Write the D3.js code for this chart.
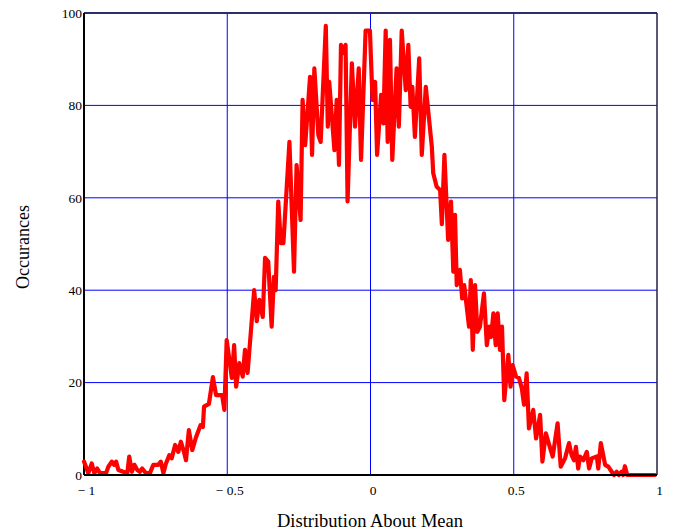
<!DOCTYPE html>
<html>
<head>
<meta charset="utf-8">
<script src="https://cdn.jsdelivr.net/npm/d3@7"></script>
<style>
    body { margin: 0; background: #fff; }
    text { font-family: "Liberation Serif", "DejaVu Serif", serif; fill: #000; }
</style>
</head>
<body>
<div id="chart"></div>
<script>
// Distribution about mean - histogram counts
const binCenters = [
    -1.000, -0.985, -0.973, -0.964, -0.954, -0.944, -0.923, -0.915, -0.903, -0.895,
    -0.888, -0.880, -0.863, -0.849, -0.842, -0.833, -0.824, -0.814, -0.805, -0.797,
    -0.784, -0.770, -0.758, -0.741, -0.732, -0.723, -0.714, -0.702, -0.694, -0.682,
    -0.671, -0.662, -0.651, -0.644, -0.634, -0.622, -0.610, -0.593, -0.585, -0.581,
    -0.564, -0.550, -0.539, -0.518, -0.510, -0.502, -0.484, -0.476, -0.469, -0.458,
    -0.446, -0.438, -0.429, -0.406, -0.397, -0.388, -0.376, -0.368, -0.357, -0.345,
    -0.337, -0.331, -0.322, -0.313, -0.304, -0.283, -0.267, -0.258, -0.244, -0.237,
    -0.228, -0.211, -0.204, -0.196, -0.182, -0.174, -0.156, -0.149, -0.144, -0.126,
    -0.118, -0.110, -0.103, -0.092, -0.087, -0.080, -0.065, -0.054, -0.041, -0.033,
    -0.017, -0.002, 0.007, 0.016, 0.023, 0.037, 0.045, 0.053, 0.060, 0.068,
    0.076, 0.091, 0.099, 0.109, 0.123, 0.132, 0.140, 0.146, 0.155, 0.170,
    0.179, 0.193, 0.214, 0.219, 0.231, 0.243, 0.249, 0.258, 0.271, 0.281,
    0.289, 0.295, 0.301, 0.312, 0.320, 0.327, 0.344, 0.350, 0.357, 0.365,
    0.373, 0.382, 0.396, 0.406, 0.415, 0.421, 0.429, 0.437, 0.444, 0.452,
    0.459, 0.467, 0.481, 0.489, 0.496, 0.508, 0.518, 0.528, 0.536, 0.545,
    0.553, 0.568, 0.578, 0.592, 0.600, 0.612, 0.627, 0.636, 0.653, 0.664,
    0.679, 0.693, 0.702, 0.710, 0.717, 0.725, 0.731, 0.743, 0.755, 0.763,
    0.772, 0.790, 0.795, 0.804, 0.819, 0.830, 0.842, 0.850, 0.859, 0.867,
    0.876, 0.882, 0.888, 0.896, 0.993
];

const occurrences = [
    2.9, 0.4, 2.5, 0.4, 1.4, 0.4, 0.4, 1.8, 2.9, 2.2,
    2.9, 1.1, 0.7, 0.4, 4.0, 0.7, 2.2, 1.1, 0.7, 1.4,
    0.4, 0.4, 2.2, 2.2, 2.9, 0.4, 2.5, 4.3, 3.6, 6.5,
    5.0, 7.2, 5.0, 3.2, 9.7, 5.4, 8.0, 10.8, 10.4, 14.8,
    15.4, 21.2, 17.3, 17.3, 14.1, 29.2, 21.0, 28.1, 19.1, 24.2,
    21.3, 27.1, 22.1, 40.0, 33.3, 37.9, 34.2, 47.0, 46.2, 32.1,
    42.9, 40.0, 59.2, 50.2, 50.2, 72.1, 44.0, 67.1, 55.2, 81.2,
    71.4, 86.2, 69.3, 88.0, 73.6, 72.1, 97.2, 75.4, 85.1, 70.3,
    81.2, 67.1, 93.1, 91.3, 93.1, 59.2, 89.1, 75.4, 88.0, 68.2,
    96.2, 96.2, 81.2, 85.1, 69.3, 82.3, 76.1, 96.2, 72.1, 94.2,
    68.2, 88.0, 75.4, 96.2, 83.3, 93.1, 79.7, 84.0, 73.2, 90.2,
    69.3, 84.0, 71.1, 65.3, 62.4, 61.7, 54.3, 69.3, 50.9, 59.2,
    44.0, 56.3, 41.1, 44.4, 38.2, 41.1, 32.1, 42.2, 27.1, 41.1,
    31.0, 32.1, 39.3, 28.1, 32.1, 29.9, 35.0, 28.1, 35.0, 27.1,
    32.1, 16.2, 26.0, 19.1, 23.8, 21.3, 21.0, 18.8, 15.2, 22.0,
    10.1, 14.1, 7.9, 13.0, 2.9, 9.0, 5.8, 4.0, 11.2, 1.8,
    3.6, 6.9, 4.3, 3.2, 6.1, 1.4, 4.0, 3.2, 5.0, 1.4,
    3.6, 4.0, 1.4, 6.9, 2.2, 1.8, 0.7, 0, 0.7, 0,
    0.7, 0, 1.9, 0, 0
];

const xTicks = [-1, -0.5, 0, 0.5, 1];
const xTickLabels = ["\u2212 1", "\u2212 0.5", "0", "0.5", "1"];
const yTicks = [0, 20, 40, 60, 80, 100];

const width = 673;
const height = 531;
const margin = { top: 13, right: 16, bottom: 56, left: 84 };

const svg = d3.select("#chart").append("svg")
    .attr("width", width)
    .attr("height", height);

const x = d3.scaleLinear()
    .domain([-1, 1])
    .range([margin.left, width - margin.right]);

const y = d3.scaleLinear()
    .domain([0, 100])
    .range([height - margin.bottom, margin.top]);

// Grid lines
const grid = svg.append("g").attr("class", "grid");

grid.selectAll(".vgrid")
    .data(xTicks.filter(d => d > -1 && d < 1))
    .enter().append("line")
    .attr("x1", d => x(d))
    .attr("x2", d => x(d))
    .attr("y1", y(0))
    .attr("y2", y(100))
    .attr("stroke", "#0000ff")
    .attr("stroke-width", 1);

grid.selectAll(".hgrid")
    .data(yTicks.filter(d => d > 0 && d < 100))
    .enter().append("line")
    .attr("x1", x(-1))
    .attr("x2", x(1))
    .attr("y1", d => y(d))
    .attr("y2", d => y(d))
    .attr("stroke", "#0000ff")
    .attr("stroke-width", 1);

// Frame
svg.append("line")
    .attr("x1", x(-1)).attr("x2", x(1))
    .attr("y1", y(100)).attr("y2", y(100))
    .attr("stroke", "#2e2e66").attr("stroke-width", 2);
svg.append("line")
    .attr("x1", x(1)).attr("x2", x(1))
    .attr("y1", y(100)).attr("y2", y(0))
    .attr("stroke", "#222244").attr("stroke-width", 1.5);
svg.append("line")
    .attr("x1", x(-1)).attr("x2", x(-1))
    .attr("y1", y(100)).attr("y2", y(0))
    .attr("stroke", "#000").attr("stroke-width", 2);

// Data line
const points = binCenters.map((c, i) => [c, occurrences[i]]);

svg.append("path")
    .datum(points)
    .attr("fill", "none")
    .attr("stroke", "#ff0000")
    .attr("stroke-width", 4.2)
    .attr("stroke-linejoin", "round")
    .attr("stroke-linecap", "round")
    .attr("d", d3.line().x(d => x(d[0])).y(d => y(d[1])));

svg.append("line")
    .attr("x1", x(-1)).attr("x2", x(1))
    .attr("y1", y(0)).attr("y2", y(0))
    .attr("stroke", "#000").attr("stroke-width", 2);

// Axes (labels only, like the original)
const xAxis = svg.append("g")
    .attr("transform", `translate(0, ${y(0)})`)
    .call(d3.axisBottom(x).tickValues(xTicks).tickSize(0).tickPadding(10)
        .tickFormat((d, i) => xTickLabels[i]));
xAxis.select(".domain").remove();
xAxis.selectAll("text")
    .attr("dx", 2)
    .style("font-size", "13.5px")
    .style("font-family", "'Liberation Serif', serif");

const yAxis = svg.append("g")
    .attr("transform", `translate(${x(-1)}, 0)`)
    .call(d3.axisLeft(y).tickValues(yTicks).tickSize(0).tickPadding(2)
        .tickFormat(d3.format("d")));
yAxis.select(".domain").remove();
yAxis.selectAll("text")
    .style("font-size", "13.5px")
    .style("font-family", "'Liberation Serif', serif");

// Axis titles
svg.append("text")
    .attr("x", 370)
    .attr("y", 527)
    .attr("text-anchor", "middle")
    .style("font-size", "18.5px")
    .text("Distribution About Mean");

svg.append("text")
    .attr("transform", "rotate(-90)")
    .attr("x", -247)
    .attr("y", 29)
    .attr("text-anchor", "middle")
    .style("font-size", "18px")
    .text("Occurances");
</script>
</body>
</html>
